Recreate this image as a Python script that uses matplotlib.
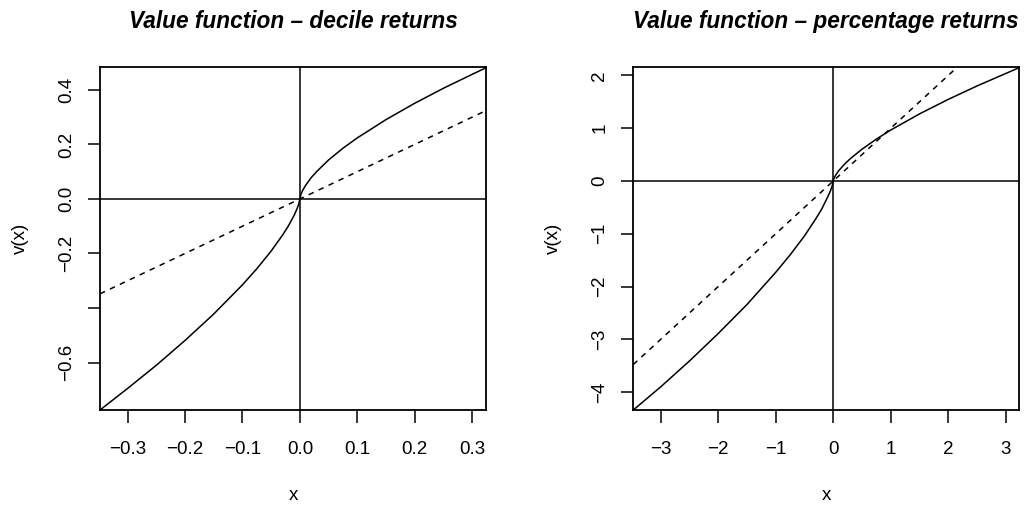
import matplotlib
matplotlib.use("Agg")
import matplotlib.pyplot as plt

plt.rcParams['font.family'] = ['Liberation Sans', 'DejaVu Sans']

# ---- data ----
decile_x = [-0.348, -0.3, -0.25, -0.2, -0.15, -0.1, -0.075, -0.05, -0.03, -0.02,
            -0.01, -0.005, -0.002, 0.0, 0.002, 0.005, 0.01, 0.02, 0.03, 0.05,
            0.075, 0.1, 0.15, 0.2, 0.25, 0.3, 0.324]
decile_v = [-0.774, -0.695, -0.610, -0.519, -0.422, -0.315, -0.256, -0.191, -0.132, -0.099,
            -0.060, -0.036, -0.019, 0.0, 0.018, 0.032, 0.050, 0.079, 0.102, 0.143,
            0.186, 0.224, 0.291, 0.351, 0.406, 0.457, 0.481]

pct_x = [-3.478, -3.0, -2.5, -2.0, -1.5, -1.0, -0.75, -0.5, -0.3, -0.2,
         -0.1, -0.05, -0.02, -0.005, 0.0, 0.005, 0.02, 0.05, 0.1, 0.2,
         0.3, 0.5, 0.75, 1.0, 1.5, 2.0, 2.5, 3.0, 3.23]
pct_v = [-4.34, -3.90, -3.41, -2.89, -2.34, -1.73, -1.40, -1.04, -0.71, -0.53,
         -0.31, -0.19, -0.096, -0.034, 0.0, 0.026, 0.068, 0.126, 0.202, 0.323,
         0.426, 0.602, 0.794, 0.965, 1.271, 1.546, 1.80, 2.037, 2.145]

decile_xlim = (-0.348, 0.324)
decile_ylim = (-0.774, 0.482)
pct_xlim = (-3.478, 3.23)
pct_ylim = (-4.34, 2.15)

decile_xticks = [-0.3, -0.2, -0.1, 0.0, 0.1, 0.2, 0.3]
decile_xlabels = ['\u22120.3', '\u22120.2', '\u22120.1', '0.0', '0.1', '0.2', '0.3']
decile_yticks = [-0.6, -0.4, -0.2, 0.0, 0.2, 0.4]
decile_ylabels = ['\u22120.6', '', '\u22120.2', '0.0', '0.2', '0.4']

pct_xticks = [-3, -2, -1, 0, 1, 2, 3]
pct_xlabels = ['\u22123', '\u22122', '\u22121', '0', '1', '2', '3']
pct_yticks = [-4, -3, -2, -1, 0, 1, 2]
pct_ylabels = ['\u22124', '\u22123', '\u22122', '\u22121', '0', '1', '2']

titles = ['Value function \u2013 decile returns', 'Value function \u2013 percentage returns']

W, H = 1025, 505
fig = plt.figure(figsize=(W / 100, H / 100), dpi=100)

def px_axes(x0, x1, ytop, ybot):
    return fig.add_axes([x0 / W, (H - ybot) / H, (x1 - x0) / W, (ybot - ytop) / H])

ax1 = px_axes(100, 486, 67.5, 410)
ax2 = px_axes(633.3, 1019, 67.5, 410)

TICK_FS = 13.5
panels = [
    (ax1, decile_x, decile_v, decile_xlim, decile_ylim, decile_xticks, decile_xlabels,
     decile_yticks, decile_ylabels, titles[0]),
    (ax2, pct_x, pct_v, pct_xlim, pct_ylim, pct_xticks, pct_xlabels,
     pct_yticks, pct_ylabels, titles[1]),
]

for ax, xs, vs, xl, yl, xt, xtl, yt, ytl, title in panels:
    ax.plot(xs, vs, color='black', lw=1.1, solid_capstyle='butt')
    ax.axline((0, 0), slope=1, color='black', lw=1.1, linestyle=(0, (3.6, 3.6)))
    ax.axhline(0, color='black', lw=1.1)
    ax.axvline(0, color='black', lw=1.1)
    ax.set_xlim(*xl)
    ax.set_ylim(*yl)
    ax.set_xticks(xt)
    ax.set_xticklabels(xtl)
    ax.set_yticks(yt)
    ax.set_yticklabels(ytl)
    for s in ax.spines.values():
        s.set_linewidth(1.3)
    ax.tick_params(axis='both', direction='out', length=9, width=1.1,
                   labelsize=TICK_FS, color='black')
    ax.tick_params(axis='x', pad=13)
    ax.tick_params(axis='y', pad=9, labelrotation=90)
    for lbl in ax.get_yticklabels():
        lbl.set_va('center')
        lbl.set_ha('right')
    ax.text(0.5, 1 + 46 / 342.5, title, transform=ax.transAxes, ha='center', va='center',
            fontsize=16.3, fontweight='bold', fontstyle='italic', clip_on=False)
    ax.text(0.5, -(495 - 410) / 342.5, 'x', transform=ax.transAxes, ha='center', va='center',
            fontsize=TICK_FS)
    ax.text(-80 / 386, 0.5, 'v(x)', transform=ax.transAxes, ha='center', va='center',
            rotation=90, fontsize=TICK_FS)

fig.savefig('out.png', dpi=100, facecolor='white')
